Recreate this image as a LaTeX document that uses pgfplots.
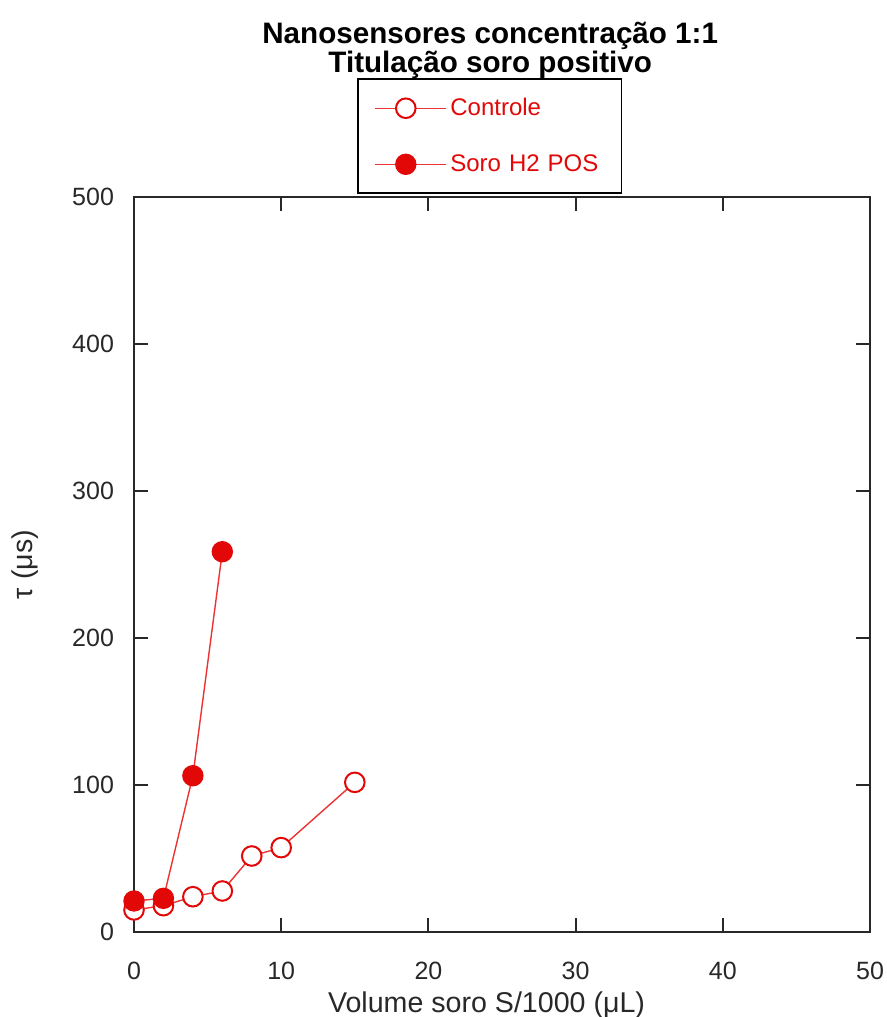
\documentclass[border=0pt]{standalone}
\usepackage{pgfplots}
\pgfplotsset{compat=1.18}
\usepackage{fontspec}
\setmainfont{Liberation Sans}
\definecolor{serie}{RGB}{226,8,8}
\definecolor{linha}{RGB}{236,50,50}
\definecolor{eixo}{RGB}{40,40,40}

\pgfplotstableread{
x y
0 15.0
2 17.9
4 24.0
6 27.9
8 51.7
10 57.4
15 101.8
}\controle

\pgfplotstableread{
x y
0 21.1
2 22.9
4 106.3
6 258.7
}\soro

\begin{document}
\begin{tikzpicture}
\begin{axis}[
  scale only axis,
  width=368pt, height=367.5pt,
  xmin=0, xmax=50, ymin=0, ymax=500,
  xtick={0,10,...,50}, ytick={0,100,...,500},
  tick align=inside,
  major tick length=7pt,
  axis line style={eixo, line width=1pt},
  every tick/.style={eixo, line width=1pt},
  /pgf/number format/assume math mode=true,
  tick label style={font=\fontsize{12.5}{14}\selectfont, text=eixo},
  xticklabel style={yshift=-11.5pt},
  yticklabel style={xshift=-6.5pt},
  xlabel={Volume soro S/1000 (μL)},
  ylabel={τ (μs)},
  every axis x label/.style={at={(rel axis cs:0.479,0)}, anchor=base,
    yshift=-40pt, font=\fontsize{14.3}{16}\selectfont, text=eixo},
  every axis y label/.style={at={(rel axis cs:-0.148,0.5)}, rotate=90,
    anchor=center, font=\fontsize{14.3}{16}\selectfont, text=eixo},
  legend style={
    at={(rel axis cs:0.303,1)}, anchor=south west, yshift=1.5pt,
    draw=black, line width=0.8pt,
    font=\fontsize{12}{14}\selectfont, text=serie,
    inner xsep=8pt, inner ysep=7.5pt,
    row sep=14pt,
    cells={anchor=west},
    text width=75.5pt,
  },
  legend image code/.code={
    \draw[linha, line width=0.7pt] (0cm,0cm) -- (1.25cm,0cm);
    \draw[#1] plot coordinates {(0.55cm,0cm)};
  },
  clip=false,
]
\addplot[linha, line width=0.7pt, mark=*, mark size=4.9pt,
  mark options={draw=serie, fill=white, line width=1pt, solid}]
  table[x=x, y=y] {\controle};
\addlegendentry{Controle}
\addplot[linha, line width=0.7pt, mark=*, mark size=5pt,
  mark options={draw=serie, fill=serie, solid}]
  table[x=x, y=y] {\soro};
\addlegendentry{Soro H2 POS}

\node[font=\bfseries\fontsize{14.8}{17}\selectfont, anchor=base]
  at ([yshift=76.5pt]rel axis cs:0.484,1) {Nanosensores concentração 1:1};
\node[font=\bfseries\fontsize{14.8}{17}\selectfont, anchor=base]
  at ([yshift=62pt]rel axis cs:0.484,1) {Titulação soro positivo};
\end{axis}
\pgfresetboundingbox
\path (current axis.south west) ++(-67pt,-42.5pt) coordinate (bbA);
\path (current axis.north east) ++(8pt,98.5pt) coordinate (bbB);
\useasboundingbox (bbA) rectangle (bbB);
\end{tikzpicture}
\end{document}
